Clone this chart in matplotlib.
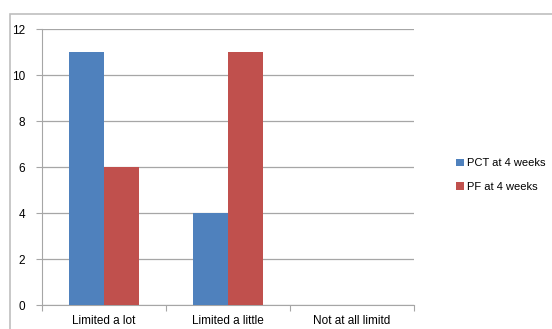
import matplotlib.pyplot as plt
import numpy as np
from matplotlib.patches import Rectangle

categorias = ['Limited a lot', 'Limited a little', 'Not at all limitd']
pct_4sem = [11, 4, 0]
pf_4sem = [6, 11, 0]
series = ['PCT at 4 weeks', 'PF at 4 weeks']

azul = '#4F81BD'
rojo = '#C0504D'
gris = '#A6A6A6'

plt.rcParams['font.family'] = ['Liberation Sans', 'DejaVu Sans']

fig = plt.figure(figsize=(5.52, 3.29), dpi=100)

# Marco exterior del grafico (estilo Excel)
fig.patches.append(Rectangle((10 / 552, -0.1), 1.0, 1.1 - 14 / 329,
                             transform=fig.transFigure, fill=False,
                             edgecolor='#BFBFBF', linewidth=1.2))

ax = fig.add_axes([42 / 552, 1 - 305 / 329, 372 / 552, 276 / 329])

x = np.arange(len(categorias))
ancho = 0.285
ax.bar(x - ancho / 2, pct_4sem, ancho, color=azul, label=series[0], zorder=3)
ax.bar(x + ancho / 2, pf_4sem, ancho, color=rojo, label=series[1], zorder=3)

ax.set_xlim(-0.5, len(categorias) - 0.5)
ax.set_ylim(0, 12)
ax.set_yticks(range(0, 13, 2))
ax.yaxis.grid(True, color=gris, linewidth=0.9, zorder=0)

# ticks del eje x en los limites de categoria
ax.set_xticks(np.arange(-0.5, len(categorias), 1))
ax.set_xticklabels([])
ax.set_xticks(x, minor=True)
ax.set_xticklabels(categorias, minor=True, fontsize=8.5)
ax.tick_params(axis='x', which='minor', length=0, pad=7)
ax.tick_params(axis='x', which='major', length=4, color=gris)
ax.tick_params(axis='y', length=4, color=gris, labelsize=8.5, pad=8)

for lado in ['top', 'right']:
    ax.spines[lado].set_visible(False)
ax.spines['left'].set_color(gris)
ax.spines['bottom'].set_color(gris)

ax.legend(loc='center left', bbox_to_anchor=(446 / 372 - 42 / 372, 0.47),
          frameon=False, fontsize=8, handlelength=0.7, handleheight=0.7,
          handletextpad=0.3, labelspacing=1.25)

plt.savefig('out.png', dpi=100)
